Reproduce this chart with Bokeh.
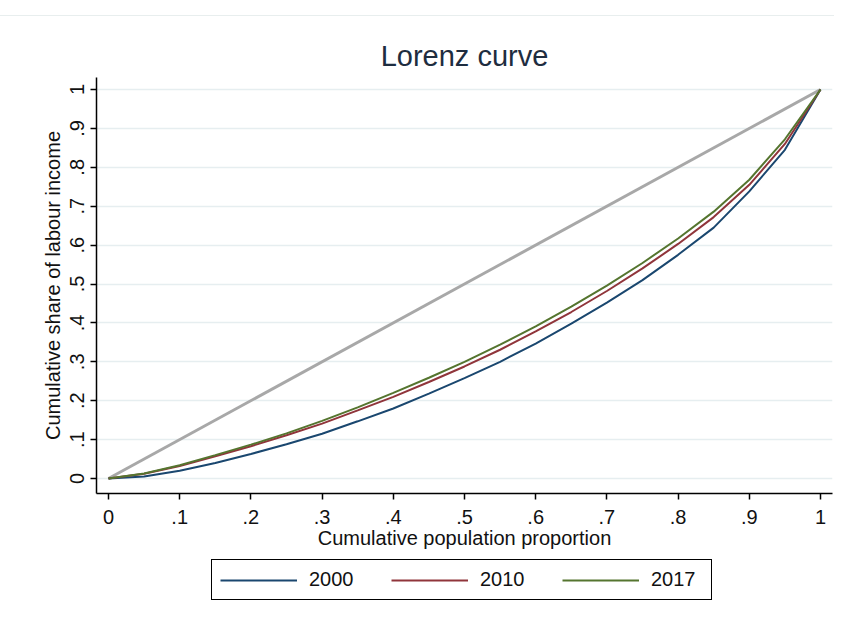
import math
from bokeh.plotting import figure
from bokeh.models import Range1d, FixedTicker, Legend, LegendItem, Div
from bokeh.layouts import column
from bokeh.embed import file_html
from bokeh.resources import INLINE

# ---- data ----
pop_share = [0.0, 0.05, 0.10, 0.15, 0.20, 0.25, 0.30, 0.35, 0.40, 0.45, 0.50,
             0.55, 0.60, 0.65, 0.70, 0.75, 0.80, 0.85, 0.90, 0.95, 1.0]
income_2000 = [0.0, 0.005, 0.020, 0.040, 0.063, 0.088, 0.115, 0.147, 0.180, 0.218, 0.258,
               0.300, 0.347, 0.398, 0.452, 0.510, 0.575, 0.645, 0.738, 0.845, 1.0]
income_2010 = [0.0, 0.012, 0.032, 0.057, 0.083, 0.111, 0.141, 0.175, 0.210, 0.248, 0.288,
               0.331, 0.378, 0.428, 0.482, 0.540, 0.603, 0.672, 0.755, 0.860, 1.0]
income_2017 = [0.0, 0.013, 0.034, 0.060, 0.087, 0.116, 0.148, 0.183, 0.220, 0.259, 0.300,
               0.344, 0.391, 0.442, 0.496, 0.554, 0.617, 0.686, 0.768, 0.872, 1.0]
equality_x = [0.0, 1.0]
equality_y = [0.0, 1.0]

years = ["2000", "2010", "2017"]
tick_values = [0.0, 0.1, 0.2, 0.3, 0.4, 0.5, 0.6, 0.7, 0.8, 0.9, 1.0]
tick_labels = ["0", ".1", ".2", ".3", ".4", ".5", ".6", ".7", ".8", ".9", "1"]
series = [income_2000, income_2010, income_2017]

FONT = "Liberation Sans"
colors = ["#1a476f", "#90353b", "#55752f"]

# ---- main chart ----
p = figure(width=834, height=542, output_backend="svg", toolbar_location=None,
           x_range=Range1d(-0.01685, 1.01685), y_range=Range1d(-0.03856, 1.03085),
           min_border_left=96, min_border_right=2, min_border_top=61, min_border_bottom=65)
p.background_fill_color = "white"
p.border_fill_color = "white"
p.outline_line_color = None

p.title.text = "Lorenz curve"
p.title.align = "center"
p.title.text_font = FONT
p.title.text_font_size = "29px"
p.title.text_font_style = "normal"
p.title.text_color = "#1e2d40"
p.title.standoff = 11

overrides = {v: l for v, l in zip(tick_values, tick_labels)}
for ax in (p.xaxis[0], p.yaxis[0]):
    ax.ticker = FixedTicker(ticks=tick_values)
    ax.major_label_overrides = overrides
    ax.minor_tick_line_color = None
    ax.major_tick_in = 0
    ax.major_tick_out = 6
    ax.axis_line_color = "black"
    ax.axis_line_width = 1.5
    ax.major_tick_line_color = "black"
    ax.major_tick_line_width = 1.5
    ax.major_label_text_font = FONT
    ax.major_label_text_font_size = "20px"
    ax.major_label_text_color = "#111111"
    ax.axis_label_text_font = FONT
    ax.axis_label_text_font_size = "20px"
    ax.axis_label_text_font_style = "normal"
    ax.axis_label_text_color = "#111111"

p.xaxis.axis_label = "Cumulative population proportion"
p.xaxis.major_label_standoff = 10
p.xaxis.axis_label_standoff = 0
p.yaxis.axis_label = "Cumulative share of labour income"
p.yaxis.major_label_orientation = "vertical"
p.yaxis.major_label_standoff = 6
p.yaxis.axis_label_standoff = 4

p.xgrid.visible = False
p.ygrid.grid_line_color = "#e6eef0"
p.ygrid.grid_line_width = 1.5

p.line(equality_x, equality_y, line_color="#a8a8a8", line_width=3)
for ys, c in zip(series, colors):
    p.line(pop_share, ys, line_color=c, line_width=2)

# ---- legend strip (same series, drawn outside its visible range) ----
lf = figure(width=834, height=62, output_backend="svg", toolbar_location=None,
            x_range=Range1d(5, 6), y_range=Range1d(5, 6),
            min_border_left=0, min_border_right=0, min_border_top=0, min_border_bottom=0)
lf.axis.visible = False
lf.grid.visible = False
lf.outline_line_color = None
lf.background_fill_color = "white"
lf.border_fill_color = "white"
items = []
for ys, c, yr in zip(series, colors, years):
    r = lf.line(pop_share, ys, line_color=c, line_width=2)
    items.append(LegendItem(label=yr, renderers=[r]))

legend = Legend(items=items, orientation="horizontal", location=(115, 20))
legend.border_line_color = "black"
legend.border_line_width = 1.5
legend.border_line_alpha = 1.0
legend.padding = 8
legend.spacing = 30
legend.glyph_width = 77
legend.glyph_height = 20
legend.label_width = 52
legend.label_standoff = 12
legend.label_text_font = FONT
legend.label_text_font_size = "20px"
legend.label_text_color = "#111111"
legend.background_fill_color = "white"
legend.background_fill_alpha = 1.0
legend.margin = 0
lf.add_layout(legend, "center")

top_line = Div(text="", width=834, height=16, margin=0,
               styles={"border-bottom": "1px solid #e8eeee", "box-sizing": "border-box"})

layout = column(top_line, p, lf, spacing=0)
open("out.html", "w").write(file_html(layout, INLINE))
